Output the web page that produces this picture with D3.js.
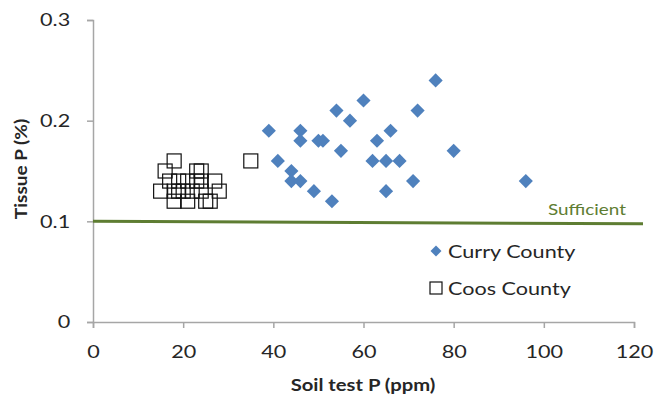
<!DOCTYPE html>
<html lang="en">
<head>
    <meta charset="UTF-8">
    <title>Tissue P vs Soil test P</title>
    <script src="https://cdn.jsdelivr.net/npm/d3@7/dist/d3.min.js"></script>
    <style>
        body { margin: 0; background: #fff; }
        text { font-family: Lato, "Open Sans", sans-serif; }
    </style>
</head>
<body>
<script>
    // Curry County: soil test P (ppm), tissue P (%)
    var curryX = [76, 60, 54, 72, 57, 39, 46, 66, 46, 50, 51, 63, 55, 80, 41, 62, 65, 68, 44, 44, 46, 71, 96, 49, 65, 53];
    var curryY = [0.24, 0.22, 0.21, 0.21, 0.20, 0.19, 0.19, 0.19, 0.18, 0.18, 0.18, 0.18, 0.17, 0.17, 0.16, 0.16, 0.16, 0.16, 0.15, 0.14, 0.14, 0.14, 0.14, 0.13, 0.13, 0.12];

    // Coos County
    var coosX = [18, 35, 16, 23, 24, 17, 19, 21, 23, 24, 27, 15, 18, 19, 20, 22, 24, 28, 18, 21, 25, 26];
    var coosY = [0.16, 0.16, 0.15, 0.15, 0.15, 0.14, 0.14, 0.14, 0.14, 0.14, 0.14, 0.13, 0.13, 0.13, 0.13, 0.13, 0.13, 0.13, 0.12, 0.12, 0.12, 0.12];

    // "Sufficient" reference line
    var sufficientX = [0, 122];
    var sufficientY = [0.1, 0.0975];

    var xTicks = [0, 20, 40, 60, 80, 100, 120];
    var yTicks = [0, 0.1, 0.2, 0.3];

    var width = 664, height = 400;
    var svg = d3.select("body").append("svg")
        .attr("width", width)
        .attr("height", height);

    var x = d3.scaleLinear().domain([0, 120]).range([93, 634]);
    var y = d3.scaleLinear().domain([0, 0.3]).range([322, 20]);

    var axisColor = "#a6a6a6";
    var textColor = "#262626";
    var stretch = 1.2; // the picture's text is wide, so widen it a bit

    // axes
    var xAxis = svg.append("g")
        .attr("transform", "translate(0," + y(0) + ")")
        .call(d3.axisBottom(x).tickValues(xTicks).tickSize(6).tickPadding(17).tickFormat(d3.format("d")));
    var yAxis = svg.append("g")
        .attr("transform", "translate(" + x(0) + ",0)")
        .call(d3.axisLeft(y).tickValues(yTicks).tickSize(6).tickPadding(8).tickFormat(function (d) { return d === 0 ? "0" : d3.format(".1f")(d); }));

    [xAxis, yAxis].forEach(function (g) {
        g.select(".domain").attr("stroke", axisColor).attr("stroke-width", 1.5);
        g.selectAll(".tick line").attr("stroke", axisColor).attr("stroke-width", 1.5);
        g.selectAll(".tick text").attr("fill", textColor).style("font-size", "18px")
            .attr("transform", "scale(" + stretch + ",1)");
    });
    yAxis.selectAll(".tick text").attr("x", -19);

    // axis titles
    svg.append("text")
        .attr("transform", "translate(363,391) scale(1.19,1)")
        .attr("text-anchor", "middle")
        .style("font-size", "17px").style("font-weight", "bold")
        .attr("fill", textColor)
        .text("Soil test P (ppm)");
    svg.append("text")
        .attr("transform", "translate(27,169) rotate(-90) scale(1.12,1)")
        .attr("text-anchor", "middle")
        .style("font-size", "17px").style("font-weight", "bold")
        .attr("fill", textColor)
        .text("Tissue P (%)");

    // sufficient line
    var green = "#5e7d32";
    svg.append("line")
        .attr("x1", x(sufficientX[0])).attr("y1", y(sufficientY[0]))
        .attr("x2", x(sufficientX[1])).attr("y2", y(sufficientY[1]))
        .attr("stroke", green).attr("stroke-width", 3);
    svg.append("text")
        .attr("transform", "translate(587,215) scale(1.18,1)")
        .attr("text-anchor", "middle")
        .attr("fill", green)
        .style("font-size", "16px")
        .text("Sufficient");

    var diamond = d3.symbol().type(d3.symbolSquare).size(100);
    var blue = "#4f81bd";

    // Coos County squares
    svg.append("g").selectAll("rect")
        .data(d3.range(coosX.length))
        .enter().append("rect")
        .attr("x", function (i) { return x(coosX[i]) - 7; })
        .attr("y", function (i) { return y(coosY[i]) - 7; })
        .attr("width", 14).attr("height", 14)
        .attr("fill", "none")
        .attr("stroke", "#111")
        .attr("stroke-width", 1.2);

    // Curry County diamonds
    svg.append("g").selectAll("path")
        .data(d3.range(curryX.length))
        .enter().append("path")
        .attr("d", diamond)
        .attr("transform", function (i) { return "translate(" + x(curryX[i]) + "," + y(curryY[i]) + ") rotate(45)"; })
        .attr("fill", blue);

    // legend
    svg.append("path")
        .attr("d", d3.symbol().type(d3.symbolSquare).size(60))
        .attr("transform", "translate(436,251) rotate(45)")
        .attr("fill", blue);
    svg.append("text")
        .attr("transform", "translate(448,258) scale(" + stretch + ",1)")
        .attr("fill", textColor)
        .style("font-size", "18px")
        .text("Curry County");
    svg.append("rect")
        .attr("x", 430).attr("y", 282)
        .attr("width", 12).attr("height", 12)
        .attr("fill", "none").attr("stroke", "#111").attr("stroke-width", 1.2);
    svg.append("text")
        .attr("transform", "translate(448,295) scale(" + stretch + ",1)")
        .attr("fill", textColor)
        .style("font-size", "18px")
        .text("Coos County");
</script>
</body>
</html>
